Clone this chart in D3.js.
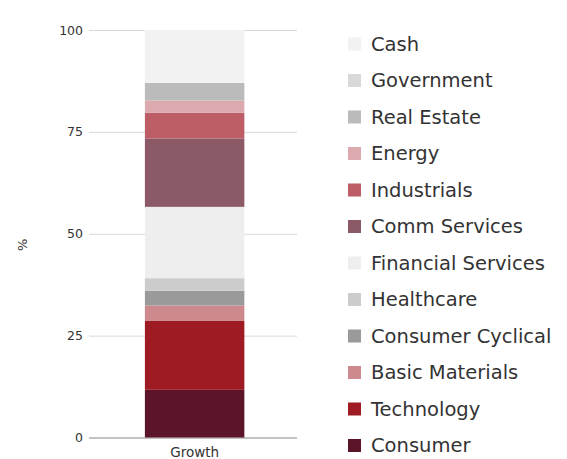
<!DOCTYPE html>
<html>
<head>
<meta charset="utf-8">
<script src="https://cdn.jsdelivr.net/npm/d3@7"></script>
<style>
  body { margin: 0; background: #fff; }
  svg { display: block; font-family: "DejaVu Sans", Verdana, sans-serif; }
</style>
</head>
<body>
<svg id="chart" width="567" height="459"></svg>
<script>
// sectors, bottom of the stack first
const sectors = ["Consumer", "Technology", "Basic Materials", "Consumer Cyclical", "Healthcare",
  "Financial Services", "Comm Services", "Industrials", "Energy", "Real Estate", "Government", "Cash"];
const growthValues = [11.7, 16.9, 3.8, 3.6, 3.1, 17.5, 16.8, 6.3, 3.0, 4.3, 0, 13.0];
const sectorColors = ["#5b1428", "#9f1b24", "#cd898d", "#9a9a9a", "#cccccc",
  "#eeeeee", "#8c5a66", "#bd5d65", "#dcaaae", "#bbbbbb", "#d9d9d9", "#f2f2f2"];
const categories = ["Growth"];
const yTicks = [0, 25, 50, 75, 100];

const svg = d3.select("#chart");
const margin = { top: 30, right: 270, bottom: 21.5, left: 89 };
const width = 567 - margin.left - margin.right;
const height = 459 - margin.top - margin.bottom;

const g = svg.append("g")
  .attr("transform", `translate(${margin.left},${margin.top})`);

const x = d3.scaleBand().domain(categories).range([0, width]).padding(0.353).align(0.515);
const y = d3.scaleLinear().domain([0, 100]).range([height, 0]);
const color = d3.scaleOrdinal().domain(sectors).range(sectorColors);

// one row of data per category
const rows = categories.map((c) => {
  const r = { category: c };
  sectors.forEach((s, i) => { r[s] = growthValues[i]; });
  return r;
});
const series = d3.stack().keys(sectors)(rows);

// grid
const yAxis = g.append("g")
  .call(d3.axisLeft(y).tickValues(yTicks).tickSize(-width).tickPadding(6));
yAxis.select(".domain").remove();
yAxis.selectAll(".tick line").attr("stroke", "#d9d9d9");
yAxis.selectAll(".tick text")
  .attr("fill", "#333")
  .style("font-size", "12.5px")
  .style("font-family", "DejaVu Sans");
yAxis.selectAll(".tick").filter((d) => d === 0).select("line").attr("stroke", "#888");

// bars
g.append("g").selectAll("g")
  .data(series)
  .join("g")
  .attr("fill", (d) => color(d.key))
  .selectAll("rect")
  .data((d) => d)
  .join("rect")
  .attr("x", (d) => x(d.data.category))
  .attr("y", (d) => y(d[1]))
  .attr("height", (d) => y(d[0]) - y(d[1]))
  .attr("width", x.bandwidth());

// x axis
const xAxis = g.append("g")
  .attr("transform", `translate(0,${height})`)
  .call(d3.axisBottom(x).tickSize(0).tickPadding(9.5));
xAxis.select(".domain").remove();
xAxis.selectAll(".tick text")
  .attr("fill", "#333")
  .style("font-size", "13.5px")
  .style("font-family", "DejaVu Sans");

// y title
svg.append("text")
  .attr("transform", `translate(27,${margin.top + y(50) + 11}) rotate(-90)`)
  .attr("text-anchor", "middle")
  .attr("fill", "#333")
  .style("font-size", "13px")
  .text("%");

// legend, top of the stack first
const legendItems = sectors.slice().reverse();
const legend = svg.append("g").attr("transform", "translate(348,44)");
const item = legend.selectAll("g")
  .data(legendItems)
  .join("g")
  .attr("transform", (d, i) => `translate(0,${i * 36.5})`);
item.append("rect")
  .attr("x", 0)
  .attr("y", -6.5)
  .attr("width", 13)
  .attr("height", 13)
  .attr("fill", (d) => color(d));
item.append("text")
  .attr("x", 23)
  .attr("dy", "0.35em")
  .attr("fill", "#333")
  .style("font-size", "19.5px")
  .text((d) => d);
</script>
</body>
</html>
